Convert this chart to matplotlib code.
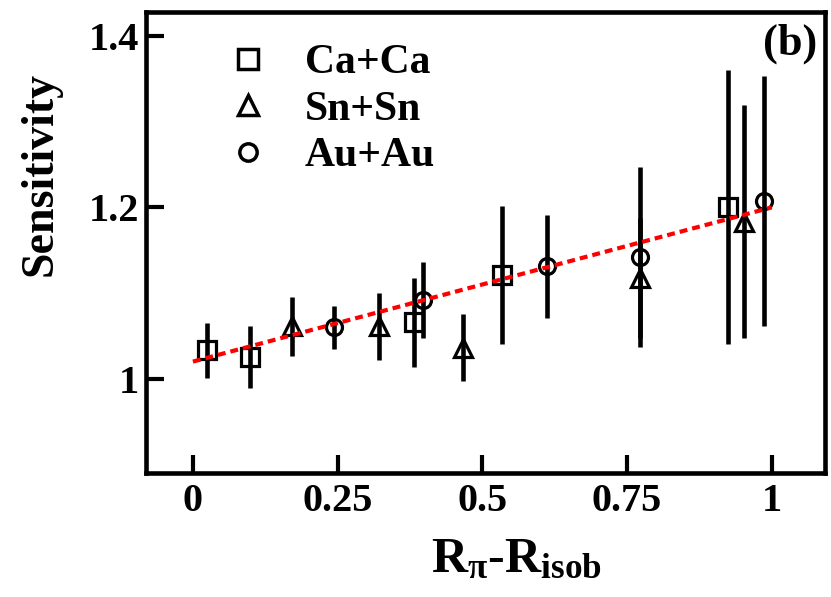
import matplotlib
matplotlib.use("Agg")
import matplotlib.pyplot as plt
from matplotlib.lines import Line2D

plt.rcParams['font.family'] = ['Liberation Serif', 'DejaVu Serif']
plt.rcParams['font.weight'] = 'bold'
plt.rcParams['mathtext.fontset'] = 'custom'
plt.rcParams['mathtext.rm'] = 'Liberation Serif'
plt.rcParams['mathtext.bf'] = 'Liberation Serif:bold'
plt.rcParams['mathtext.it'] = 'Liberation Serif:italic'

# data
ca_x = [0.024, 0.098, 0.382, 0.534, 0.924]
ca_y = [1.033, 1.025, 1.066, 1.121, 1.200]
ca_err = [0.032, 0.036, 0.052, 0.081, 0.160]

sn_x = [0.171, 0.321, 0.466, 0.772, 0.952]
sn_y = [1.061, 1.061, 1.036, 1.118, 1.183]
sn_err = [0.034, 0.039, 0.039, 0.070, 0.136]

au_x = [0.244, 0.397, 0.611, 0.772, 0.986]
au_y = [1.060, 1.092, 1.131, 1.142, 1.207]
au_err = [0.025, 0.044, 0.060, 0.105, 0.146]

fit_x = [0.0, 1.0]
fit_y = [1.020, 1.200]

xticks = [0, 0.25, 0.5, 0.75, 1]
xtick_labels = ['0', '0.25', '0.5', '0.75', '1']
yticks = [1.0, 1.2, 1.4]
ytick_labels = ['1', '1.2', '1.4']

fig = plt.figure(figsize=(8.31, 5.97), dpi=100)
ax = fig.add_axes([0.1757, 0.2077, 0.8171, 0.7722])

series = [(ca_x, ca_y, ca_err, 's', 13, 'Ca+Ca'),
          (sn_x, sn_y, sn_err, '^', 13, 'Sn+Sn'),
          (au_x, au_y, au_err, 'o', 11.5, 'Au+Au')]
handles = []
for xs, ys, es, mk, ms, lab in series:
    ax.errorbar(xs, ys, yerr=es, fmt=mk, ms=ms, mfc='none', mec='black', mew=2.3,
                ecolor='black', elinewidth=3.3, capsize=0, zorder=2)
    handles.append(Line2D([], [], ls='none', marker=mk, ms=ms + 1, mfc='none',
                          mec='black', mew=2.5, label=lab))

line, = ax.plot(fit_x, fit_y, color='red', lw=3, zorder=3)
line.set_dashes((1.9, 1.2))

ax.set_xlim(-0.081, 1.092)
ax.set_ylim(0.89, 1.428)
ax.set_xticks(xticks)
ax.set_xticklabels(xtick_labels)
ax.set_yticks(yticks)
ax.set_yticklabels(ytick_labels)
ax.tick_params(direction='in', length=13, width=3, labelsize=29, top=False, right=False)
ax.tick_params(axis='x', pad=7)
ax.tick_params(axis='y', pad=5)
for s in ax.spines.values():
    s.set_linewidth(3.3)

ax.set_ylabel('Sensitivity', fontsize=33, fontweight='bold')
ax.yaxis.set_label_coords(-0.124, 0.649)
ax.set_xlabel(r'R$_{\mathrm{π}}$-R$_{\mathbf{isob}}$', fontsize=36, fontweight='bold')
ax.xaxis.set_label_coords(0.546, -0.14)

ax.text(0.988, 0.976, '(b)', transform=ax.transAxes, ha='right', va='top',
        fontsize=32, fontweight='bold')

ax.legend(handles=handles, loc='upper left', bbox_to_anchor=(0.12, 0.93), frameon=False,
          handlelength=1.0, handletextpad=0.85, labelspacing=0.2,
          borderpad=0, borderaxespad=0, prop={'weight': 'bold', 'size': 30})

fig.savefig('out.png', dpi=100)
